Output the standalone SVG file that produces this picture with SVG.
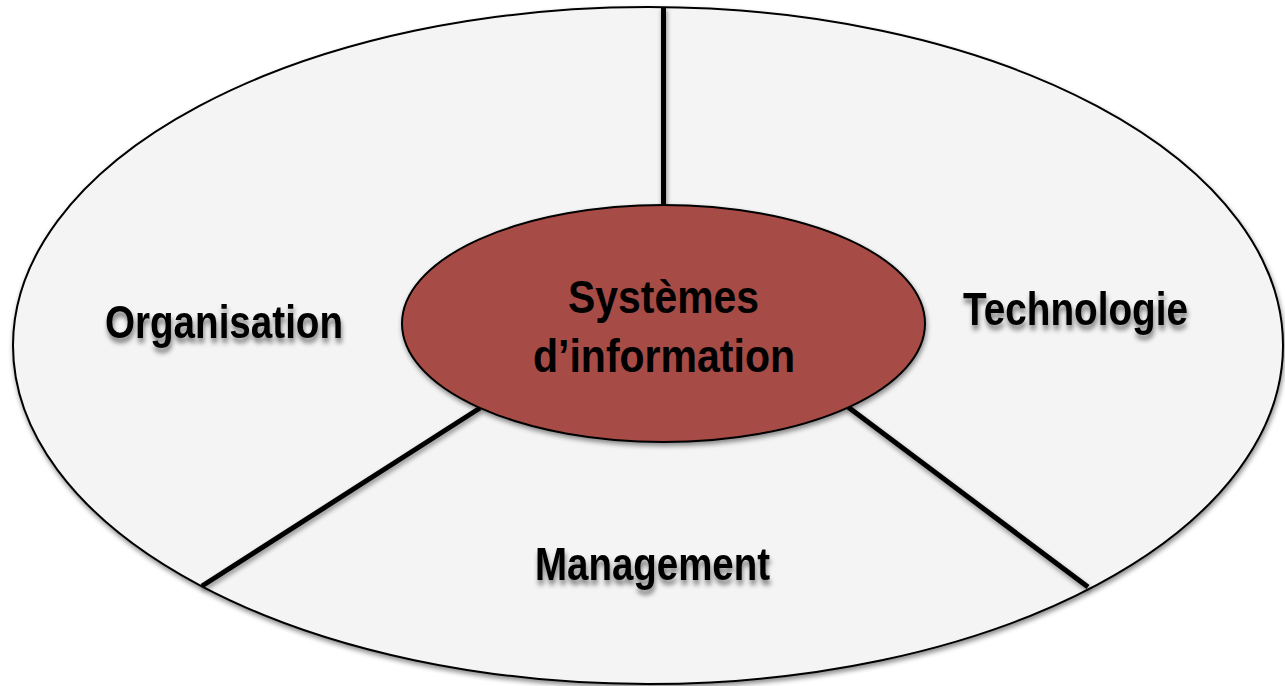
<svg xmlns="http://www.w3.org/2000/svg" width="1285" height="686" viewBox="0 0 1285 686">
<defs>
<filter id="shadow" x="-10%" y="-10%" width="120%" height="130%">
<feGaussianBlur in="SourceAlpha" stdDeviation="2.5"/>
<feOffset dx="1" dy="3" result="b"/>
<feComponentTransfer><feFuncA type="linear" slope="0.45"/></feComponentTransfer>
<feMerge><feMergeNode/><feMergeNode in="SourceGraphic"/></feMerge>
</filter>
<filter id="tshadow" x="-10%" y="-30%" width="120%" height="170%">
<feGaussianBlur in="SourceAlpha" stdDeviation="2.5"/>
<feOffset dx="1" dy="5" result="b"/>
<feComponentTransfer><feFuncA type="linear" slope="0.5"/></feComponentTransfer>
<feMerge><feMergeNode/><feMergeNode in="SourceGraphic"/></feMerge>
</filter>
</defs>
<style>
.outer{fill:#f4f4f4;stroke:#000;stroke-width:2}
.inner{fill:#a64b45;stroke:#000;stroke-width:2}
.conn{stroke:#000;stroke-width:5;fill:none}
.lbl{font-family:"Liberation Sans",Arial,sans-serif;font-weight:bold;font-size:47px;fill:#000;text-anchor:middle}
</style>
<rect width="1285" height="686" fill="#fff"/>
<g id="outer-ellipse">
<ellipse class="outer" cx="648" cy="345.5" rx="635" ry="338.5" filter="url(#shadow)"/>
</g>
<g id="connectors" filter="url(#shadow)">
<line class="conn" x1="663.5" y1="7" x2="663.5" y2="206"/>
<line class="conn" x1="480" y1="408" x2="202" y2="586"/>
<line class="conn" x1="848" y1="407" x2="1088" y2="587"/>
</g>
<g id="center-node">
<ellipse class="inner" cx="663.5" cy="323.5" rx="261.5" ry="118.5" filter="url(#shadow)"/>
<text class="lbl" x="663.5" y="313" textLength="191" lengthAdjust="spacingAndGlyphs">Systèmes</text>
<text class="lbl" x="664" y="372" textLength="262" lengthAdjust="spacingAndGlyphs">d’information</text>
</g>
<g id="organisation" filter="url(#tshadow)">
<text class="lbl" x="224" y="338" textLength="238" lengthAdjust="spacingAndGlyphs">Organisation</text>
</g>
<g id="technologie" filter="url(#tshadow)">
<text class="lbl" x="1075.5" y="325" textLength="225" lengthAdjust="spacingAndGlyphs">Technologie</text>
</g>
<g id="management" filter="url(#tshadow)">
<text class="lbl" x="652.5" y="580" textLength="235" lengthAdjust="spacingAndGlyphs">Management</text>
</g>
</svg>
